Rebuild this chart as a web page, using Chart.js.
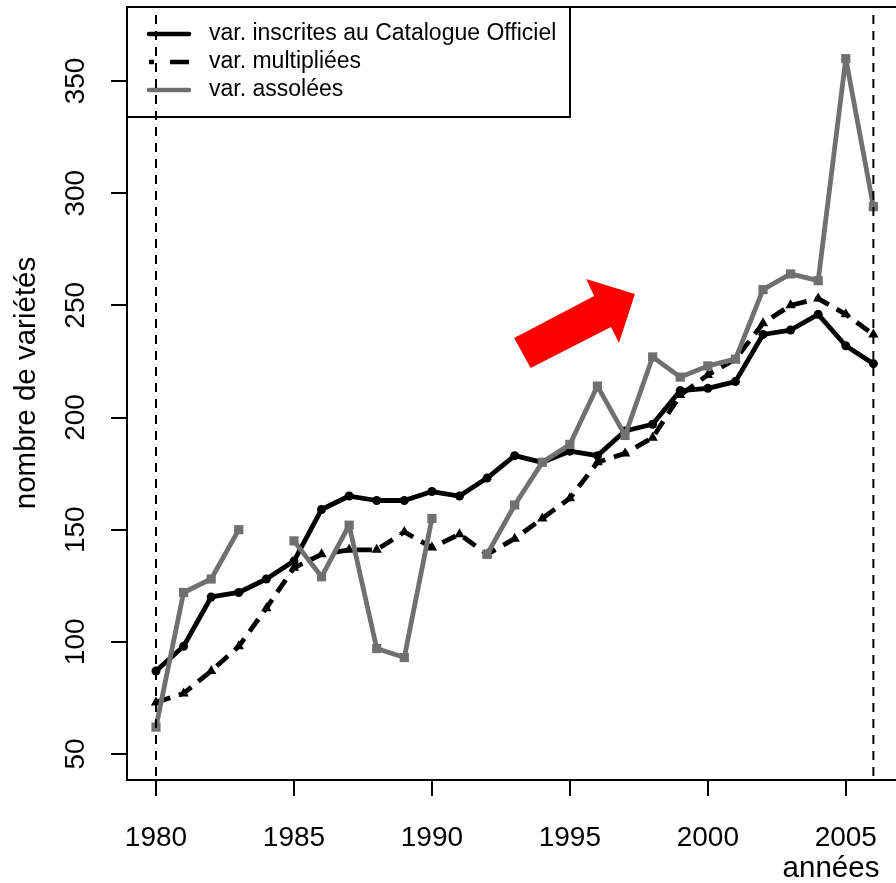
<!doctype html>
<html lang="fr">
  <head>
    <meta charset="utf-8">
    <title>Nombre de variétés</title>
    <style>
      * { margin: 0; padding: 0; }
      body { background: #fff; width: 896px; height: 883px; overflow: hidden; }
      #chart { display: block; }
    </style>
  </head>
  <body>
    <canvas id="chart" width="896" height="883"></canvas>
    <script src="https://cdn.jsdelivr.net/npm/chart.js/dist/chart.umd.min.js"></script>
    <script>
    // data
    const years = [1980, 1981, 1982, 1983, 1984, 1985, 1986, 1987, 1988, 1989, 1990, 1991, 1992,
                   1993, 1994, 1995, 1996, 1997, 1998, 1999, 2000, 2001, 2002, 2003, 2004, 2005, 2006];
    const catalogue = [87, 98, 120, 122, 128, 136, 159, 165, 163, 163, 167, 165, 173,
                       183, 180, 185, 183, 194, 197, 212, 213, 216, 237, 239, 246, 232, 224];
    const multipliees = [73, 77, 87, 98, 115, 133, 139, 141, 141, 149, 142, 148, 139,
                         146, 155, 164, 180, 184, 191, 210, 219, 226, 242, 250, 253, 246, 237];
    const assolees = [62, 122, 128, 150, null, 145, 129, 152, 97, 93, 155, null, 139,
                      161, 180, 188, 214, 192, 227, 218, 223, 226, 257, 264, 261, 360, 294];

    const seriesNames = ['var. inscrites au Catalogue Officiel', 'var. multipliées', 'var. assolées'];
    const xTicks = [1980, 1985, 1990, 1995, 2000, 2005];
    const yTicks = [50, 100, 150, 200, 250, 300, 350];
    const refYears = [1980, 2006];   // dashed vertical lines
    // red arrow outline, in (year, value) units
    const arrow = [[1992.98, 235.4], [1995.88, 254.2], [1995.59, 261.7], [1997.36, 255.1],
                   [1996.78, 233.2], [1996.49, 240.3], [1993.58, 222.1]];

    const GREY = 'rgb(112,112,112)';
    const FONT = '"Liberation Sans", Arial, sans-serif';

    const pts = (vals) => years.map((y, i) => ({ x: y, y: vals[i] }));

    // draws box, tick labels, titles, legend, reference lines and arrow
    const decor = {
      id: 'decor',
      afterDatasetsDraw(chart) {
        const { ctx, chartArea: a, scales: { x, y } } = chart;
        ctx.save();

        // arrow
        ctx.fillStyle = '#ff0000';
        ctx.beginPath();
        arrow.forEach(([ax, ay], i) => {
          const px = x.getPixelForValue(ax), py = y.getPixelForValue(ay);
          if (i === 0) ctx.moveTo(px, py); else ctx.lineTo(px, py);
        });
        ctx.closePath();
        ctx.fill();

        // top of the box
        ctx.strokeStyle = '#000';
        ctx.lineWidth = 2;
        ctx.beginPath();
        ctx.moveTo(a.left, a.top);
        ctx.lineTo(a.right, a.top);
        ctx.stroke();

        // tick labels
        ctx.fillStyle = '#000';
        ctx.font = '28px ' + FONT;
        ctx.textAlign = 'center';
        ctx.textBaseline = 'middle';
        xTicks.forEach(t => {
          ctx.fillText(String(t), x.getPixelForValue(t), 838);
        });
        yTicks.forEach(t => {
          ctx.save();
          ctx.translate(76, y.getPixelForValue(t));
          ctx.rotate(-Math.PI / 2);
          ctx.fillText(String(t), 0, 0);
          ctx.restore();
        });

        // axis titles
        ctx.font = '29.5px ' + FONT;
        ctx.fillText('années', 831, 869);
        ctx.save();
        ctx.translate(27, 383);
        ctx.rotate(-Math.PI / 2);
        ctx.fillText('nombre de variétés', 0, 0);
        ctx.restore();

        // legend
        ctx.lineWidth = 2;
        ctx.strokeRect(a.left, a.top, 443, 110);
        ctx.font = '23px ' + FONT;
        ctx.textAlign = 'left';
        const rows = [34, 62, 90];
        const styles = [
          { color: '#000', dash: [] },
          { color: '#000', dash: [20, 16], offset: 15 },
          { color: GREY, dash: [] }
        ];
        rows.forEach((ry, i) => {
          ctx.strokeStyle = styles[i].color;
          ctx.lineWidth = 4.5;
          ctx.lineCap = styles[i].dash.length ? 'butt' : 'round';
          ctx.setLineDash(styles[i].dash);
          ctx.lineDashOffset = styles[i].offset || 0;
          ctx.beginPath();
          ctx.moveTo(149, ry);
          ctx.lineTo(189, ry);
          ctx.stroke();
          ctx.setLineDash([]);
          ctx.fillText(seriesNames[i], 209, ry);
        });

        // dashed reference lines
        ctx.strokeStyle = '#000';
        ctx.lineWidth = 2;
        ctx.lineCap = 'butt';
        ctx.setLineDash([9, 7]);
        refYears.forEach(r => {
          const px = x.getPixelForValue(r);
          ctx.beginPath();
          ctx.moveTo(px, a.top + 8);
          ctx.lineTo(px, a.bottom);
          ctx.stroke();
        });
        ctx.restore();
      }
    };

    const config = {
      type: 'line',
      data: {
        datasets: [
          {
            label: seriesNames[2],
            data: pts(assolees),
            order: 1,
            borderColor: GREY,
            backgroundColor: GREY,
            borderWidth: 4.8,
            pointStyle: 'rect',
            pointRadius: 6.5,
            pointBorderWidth: 0,
            spanGaps: false
          },
          {
            label: seriesNames[1],
            data: pts(multipliees),
            order: 2,
            borderColor: '#000',
            backgroundColor: '#000',
            borderWidth: 4.8,
            borderDash: [15, 9],
            pointStyle: 'triangle',
            pointRadius: 6,
            pointBorderWidth: 0
          },
          {
            label: seriesNames[0],
            data: pts(catalogue),
            order: 3,
            borderColor: '#000',
            backgroundColor: '#000',
            borderWidth: 4.8,
            borderCapStyle: 'round',
            pointStyle: 'circle',
            pointRadius: 4.5,
            pointBorderWidth: 0
          }
        ]
      },
      options: {
        responsive: false,
        animation: false,
        devicePixelRatio: 1,
        layout: { autoPadding: false, padding: { top: 7, left: 0, right: 0, bottom: 0 } },
        plugins: { legend: { display: false }, tooltip: { enabled: false } },
        elements: { line: { tension: 0, borderJoinStyle: 'round' } },
        scales: {
          x: {
            type: 'linear',
            min: 1978.949,
            max: 2006.82,
            afterBuildTicks: s => { s.ticks = xTicks.map(v => ({ value: v })); },
            afterFit: s => { s.height = 103; },
            ticks: { display: false },
            grid: { drawOnChartArea: false, drawTicks: true, tickLength: 16, color: '#000', lineWidth: 2 },
            border: { display: true, color: '#000', width: 2 }
          },
          y: {
            type: 'linear',
            min: 38.41,
            max: 382.99,
            afterBuildTicks: s => { s.ticks = yTicks.map(v => ({ value: v })); },
            afterFit: s => { s.width = 127; },
            ticks: { display: false },
            grid: { drawOnChartArea: false, drawTicks: true, tickLength: 16, color: '#000', lineWidth: 2 },
            border: { display: true, color: '#000', width: 2 }
          }
        }
      },
      plugins: [decor]
    };

    const myChart = new Chart(document.getElementById('chart'), config);
    </script>
  </body>
</html>
